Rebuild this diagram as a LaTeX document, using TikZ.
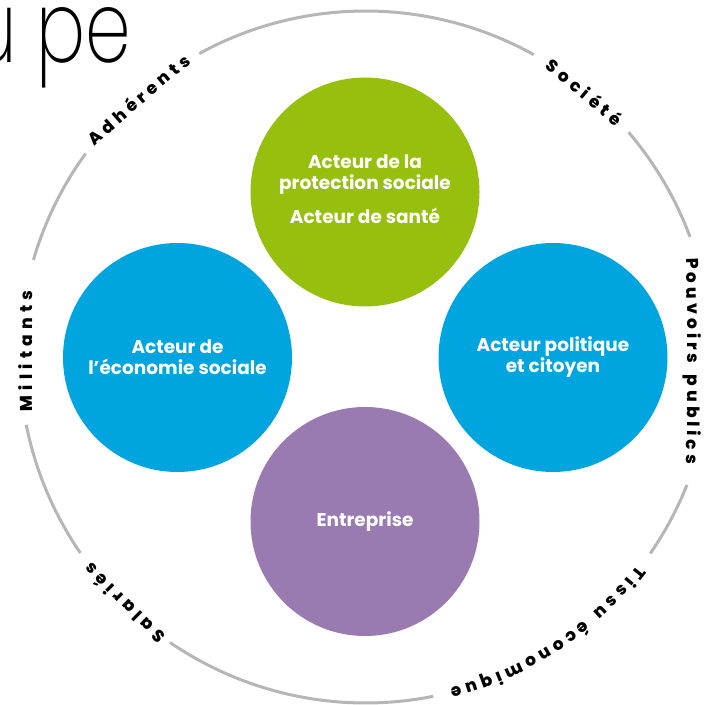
\documentclass[tikz,border=0pt]{standalone}
\usepackage{fontspec}
\setmainfont{Poppins}
\newfontfamily\upefont{Poppins ExtraLight}
\newfontfamily\lblface{Poppins ExtraBold}
\definecolor{cgreen}{RGB}{151,191,13}
\definecolor{cblue}{RGB}{0,165,224}
\definecolor{cpurple}{RGB}{153,123,178}
\definecolor{cring}{RGB}{182,182,182}
\newlength\clW
\newcommand\lblfont{\lblface\fontsize{17}{20}\selectfont}
\newcommand\clMeasure[1]{\settowidth\clW{\pgfinterruptpicture\lblfont #1\endpgfinterruptpicture}}
% #1 name prefix, #2 #3 baseline midpoint, #4 outward normal angle, #5 radius of curvature, #6 tracking, #7 characters
\newcommand\curvedlabel[7]{%
  \gdef\clAcc{0}%
  \foreach \c in {#7}{\clMeasure{\c}\pgfmathparse{\clAcc+\clW+#6}\xdef\clAcc{\pgfmathresult}}%
  \pgfmathsetmacro\clTot{\clAcc-#6}%
  \pgfmathsetmacro\clCx{#2-#5*cos(#4)}%
  \pgfmathsetmacro\clCy{#3-#5*sin(#4)}%
  \gdef\clPos{0}%
  \foreach \c [count=\i] in {#7}{%
    \clMeasure{\c}%
    \pgfmathsetmacro\clAng{#4+(\clTot/2-\clPos-\clW/2)/#5*180/pi}%
    \pgfmathsetmacro\clX{\clCx+#5*cos(\clAng)}%
    \pgfmathsetmacro\clY{\clCy+#5*sin(\clAng)}%
    \node[lbl,rotate=\clAng-90] (#1\i) at (\clX,\clY) {\c};%
    \pgfmathparse{\clPos+\clW+#6}\xdef\clPos{\pgfmathresult}%
  }%
}
\begin{document}
\begin{tikzpicture}[x=1pt,y=1pt,
  ring/.style={draw=cring,line width=3pt},
  disc/.style={circle,minimum size=229pt,inner sep=0pt,fill=#1},
  disctext/.style={text=white,font=\fontsize{18.5}{21}\selectfont\bfseries,align=center},
  lbl/.style={anchor=base,inner sep=0pt,font=\lblfont,text=black}]
\useasboundingbox (0,0) rectangle (720,704);
\node[disc=cgreen] (g) at (365,512) {};
\node[disc=cblue] (l) at (177.5,346.5) {};
\node[disc=cblue] (r) at (553,346.5) {};
\node[disc=cpurple] (p) at (365,182.5) {};
\node[disctext] (gt) at ([yshift=3]g.center) {Acteur de la\\protection sociale\\[13pt]Acteur de santé};
\node[disctext] (lt) at (l.center) {Acteur de\\l’économie sociale};
\node[disctext] (rt) at (r.center) {Acteur politique\\et citoyen};
\node[disctext] (pt) at (p.center) {Entreprise};
\begin{scope}[shift={(365.5,347)}]
  \draw[ring] (118.7:346) arc[start angle=118.7,end angle=60.9,radius=346];
  \draw[ring] (40.5:346) arc[start angle=40.5,end angle=20.3,radius=346];
  \draw[ring] (-21.7:346) arc[start angle=-21.7,end angle=-34.6,radius=346];
  \draw[ring] (-78.7:346) arc[start angle=-78.7,end angle=-124.4,radius=346];
  \draw[ring] (-145.5:346) arc[start angle=-145.5,end angle=-168.7,radius=346];
  \draw[ring] (163.7:346) arc[start angle=163.7,end angle=144,radius=346];
\end{scope}
\curvedlabel{adh}{142.6}{599.8}{130.7}{3000}{4.4}{A,d,h,é,r,e,n,t,s}
\curvedlabel{soc}{580.3}{606.7}{50}{3000}{4.6}{S,o,c,i,é,t,é}
\curvedlabel{pou}{688}{343}{0}{3000}{4.0}{P,o,u,v,o,i,r,s,~,p,u,b,l,i,c,s}
\curvedlabel{tis}{553.8}{61.5}{-56.6}{342}{4.5}{T,i,s,s,u,~,é,c,o,n,o,m,i,q,u,e}
\curvedlabel{sal}{128.5}{105.1}{-134.6}{3000}{4.7}{S,a,l,a,r,i,é,s}
\curvedlabel{mil}{32}{353}{180}{3000}{5.2}{M,i,l,i,t,a,n,t,s}
\node[anchor=base east,inner sep=0pt,font=\upefont\fontsize{100}{100}\selectfont,xscale=0.73] (upe) at (131,641) {u\kern26pt pe};
\end{tikzpicture}
\end{document}
